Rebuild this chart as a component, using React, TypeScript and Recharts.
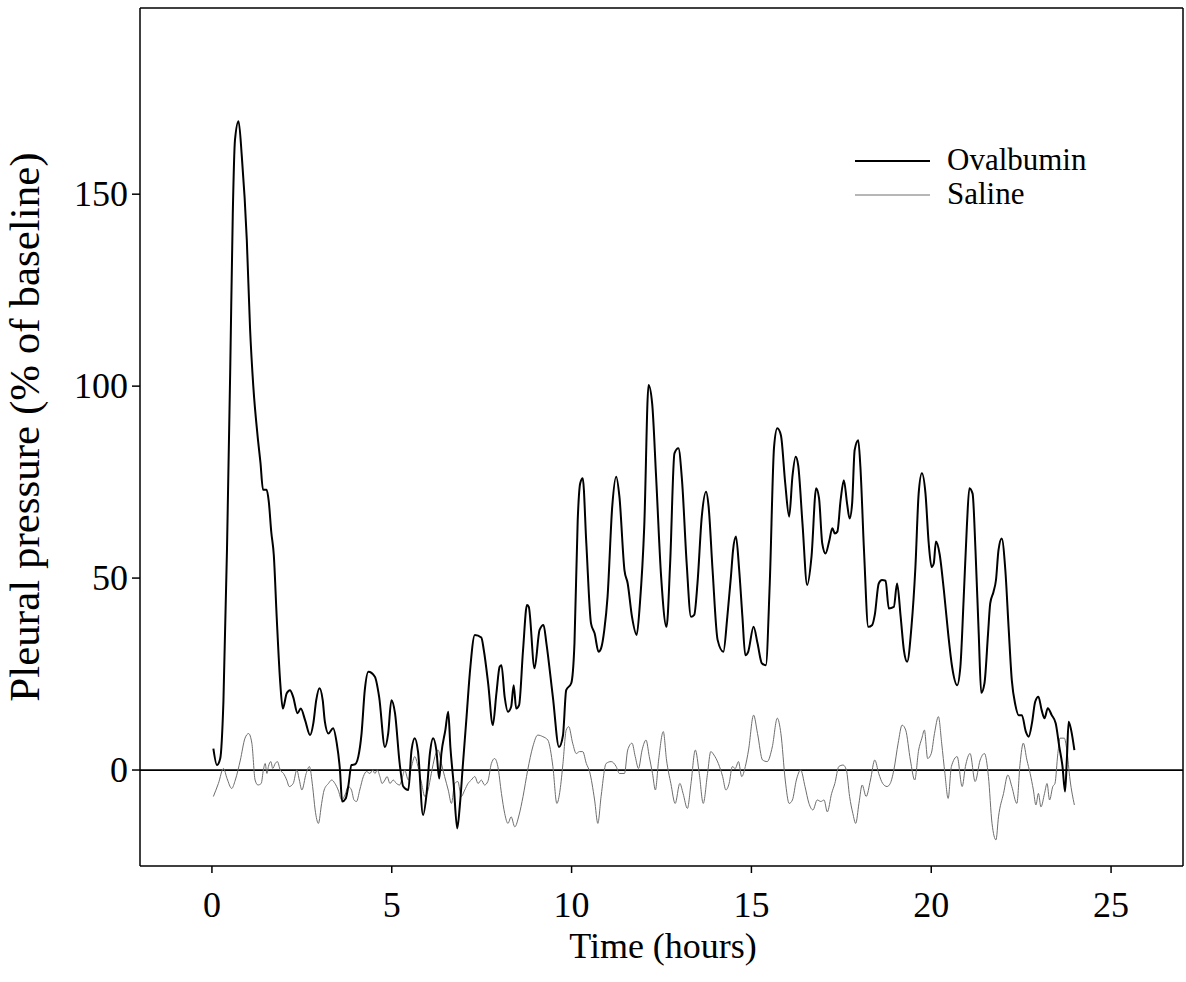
import { LineChart, Line, XAxis, YAxis, ReferenceLine } from "recharts";

// Ovalbumin trace (hours, % of baseline)
const ovalbuminHours = [
  0.04, 0.14, 0.23, 0.32, 0.42, 0.51, 0.58, 0.64, 0.74, 0.83, 0.97, 1.06, 1.15, 1.27, 1.35, 1.42, 1.52, 1.58,
  1.65, 1.72, 1.8, 1.9, 1.97, 2.08, 2.17, 2.26, 2.38, 2.47, 2.59, 2.73, 2.82, 2.9, 2.99, 3.08, 3.14, 3.24, 3.37,
  3.47, 3.56, 3.62, 3.72, 3.79, 3.88, 3.98, 4.07, 4.16, 4.25, 4.35, 4.53, 4.65, 4.81, 4.9, 4.99, 5.09, 5.22,
  5.32, 5.46, 5.55, 5.64, 5.73, 5.87, 5.97, 6.06, 6.15, 6.24, 6.32, 6.38, 6.49, 6.57, 6.63, 6.72, 6.82, 6.89,
  6.98, 7.08, 7.17, 7.31, 7.49, 7.56, 7.68, 7.81, 7.91, 8.0, 8.05, 8.14, 8.23, 8.32, 8.39, 8.46, 8.54, 8.65,
  8.76, 8.81, 8.97, 9.11, 9.22, 9.3, 9.48, 9.65, 9.76, 9.85, 9.99, 10.08, 10.17, 10.24, 10.31, 10.41, 10.54,
  10.64, 10.75, 10.82, 10.91, 11.0, 11.13, 11.24, 11.33, 11.47, 11.56, 11.68, 11.81, 11.9, 12.02, 12.14, 12.24,
  12.35, 12.49, 12.64, 12.74, 12.86, 12.97, 13.07, 13.2, 13.32, 13.41, 13.5, 13.62, 13.74, 13.81, 13.92, 14.06,
  14.22, 14.33, 14.43, 14.49, 14.57, 14.66, 14.75, 14.83, 14.91, 15.06, 15.17, 15.29, 15.4, 15.51, 15.63, 15.72,
  15.82, 15.94, 16.05, 16.14, 16.23, 16.3, 16.42, 16.55, 16.67, 16.8, 16.88, 16.97, 17.06, 17.16, 17.25, 17.32,
  17.39, 17.48, 17.57, 17.66, 17.73, 17.8, 17.87, 17.97, 18.03, 18.13, 18.25, 18.36, 18.43, 18.54, 18.63, 18.73,
  18.82, 18.96, 19.05, 19.15, 19.24, 19.33, 19.45, 19.56, 19.65, 19.74, 19.84, 19.93, 20.01, 20.07, 20.13, 20.23,
  20.35, 20.47, 20.58, 20.72, 20.81, 20.9, 20.99, 21.06, 21.15, 21.23, 21.32, 21.39, 21.48, 21.58, 21.64, 21.73,
  21.8, 21.87, 21.96, 22.06, 22.15, 22.24, 22.34, 22.43, 22.52, 22.63, 22.71, 22.8, 22.89, 22.98, 23.07, 23.15,
  23.24, 23.35, 23.46, 23.56, 23.65, 23.72, 23.77, 23.82, 23.89, 23.98,
];
const ovalbuminPct = [
  5.6, 1.3, 3, 18, 58, 105, 145, 164, 169, 160, 138, 115, 100, 87, 80, 73, 73, 70,
  62, 56, 40, 22.6, 16, 20, 20.8, 19, 14.8, 16, 13, 9.1, 12.2, 18.2, 21.3, 18.2, 12.6, 9.5, 10.9,
  7, 0, -8.2, -7.4, -4.3, 1.3, 1.5, 3.5, 9.5, 20.8, 25.6, 24.3, 19, 6, 9.5, 18.2, 14.8, 1.7,
  -4.3, -5.2, 5.2, 8.3, 4.8, -11.7, -6, 4.3, 8.3, 5.2, -2.2, 4.3, 10.4, 15.2, 6, -3.5, -15.2, -9.6,
  1.7, 13.9, 25.2, 35.2, 34.5, 31.2, 22.6, 11.7, 20, 26.9, 27.3, 19, 15.2, 16.5, 22.1, 16, 16.9, 31.2,
  43, 42.5, 26.5, 36.5, 37.8, 33, 19, 6, 9, 20.8, 22.6, 33, 65, 74.7, 76, 59, 38.2,
  35.6, 30.8, 31.7, 36.5, 45.1, 68.6, 76.4, 71.2, 52.1, 48.6, 39.9, 35.2, 43.4, 63.4, 100.3, 95.5,
  76.4, 50.3, 37.3, 53.8, 82.5, 83.8, 75.5, 53.8, 39.9, 40.4, 48.6, 66, 72.5, 68.6, 52.1, 33.9,
  30.8, 39.9, 50.3, 57.3, 60.8, 52.1, 39.9, 29.9, 30.8, 37.3, 33, 27.8, 27.3, 48.6, 84.2, 89,
  87.2, 74.7, 66, 76.4, 81.6, 79.4, 64.2, 48.2, 55.5, 73.4, 70.8, 59, 56.4, 59.5, 63, 61.6,
  62.1, 70.3, 75.5, 69.4, 65.5, 69.4, 83.3, 85.9, 79, 57.3, 37.3, 37.8, 40.4, 48.6, 49.5, 49.3,
  42.1, 42.5, 48.6, 39.9, 31.2, 28.2, 37.3, 52.9, 72, 77.3, 72, 59, 52.9, 53.8, 59.5, 56.4,
  46.9, 35.6, 26.9, 22.1, 26.9, 44.3, 63.4, 73.4, 72, 57.3, 35.6, 20.1, 22.6, 35.6, 43.4, 46.4,
  49.5, 57.3, 60.3, 52.1, 37.3, 23.4, 16.9, 14.3, 14.3, 10, 8.7, 12.2, 17.8, 19.1, 15.6, 13.5,
  16.1, 14.3, 12.2, 6.1, 0.9, -5.6, 2.6, 12.6, 10.4, 5.2,
];

// Saline trace (hours, % of baseline)
const salineHours = [
  0.04, 0.18, 0.32, 0.42, 0.55, 0.65, 0.79, 0.92, 1.02, 1.11, 1.2, 1.28, 1.37, 1.43, 1.48, 1.53, 1.57, 1.64,
  1.69, 1.76, 1.82, 1.9, 1.99, 2.08, 2.15, 2.26, 2.36, 2.43, 2.5, 2.62, 2.71, 2.8, 2.87, 2.96, 3.05, 3.12,
  3.24, 3.33, 3.42, 3.51, 3.61, 3.7, 3.79, 3.88, 3.95, 4.02, 4.11, 4.21, 4.3, 4.39, 4.47, 4.53, 4.6, 4.67,
  4.73, 4.81, 4.87, 4.95, 5.04, 5.13, 5.22, 5.3, 5.36, 5.46, 5.55, 5.64, 5.73, 5.83, 5.92, 6.01, 6.1, 6.2,
  6.29, 6.38, 6.47, 6.57, 6.66, 6.75, 6.84, 6.93, 7.03, 7.12, 7.21, 7.31, 7.4, 7.49, 7.58, 7.67, 7.77, 7.86,
  7.95, 8.05, 8.14, 8.23, 8.32, 8.42, 8.54, 8.65, 8.78, 8.92, 9.06, 9.2, 9.34, 9.48, 9.59, 9.68, 9.76, 9.85,
  9.92, 10.03, 10.13, 10.22, 10.31, 10.41, 10.5, 10.64, 10.73, 10.82, 10.96, 11.1, 11.24, 11.33, 11.47, 11.56,
  11.68, 11.77, 11.86, 11.96, 12.07, 12.16, 12.25, 12.33, 12.42, 12.55, 12.64, 12.76, 12.88, 13.01, 13.1,
  13.22, 13.32, 13.44, 13.55, 13.66, 13.78, 13.87, 13.96, 14.08, 14.2, 14.29, 14.38, 14.47, 14.55, 14.64,
  14.73, 14.83, 14.92, 15.06, 15.17, 15.31, 15.44, 15.58, 15.72, 15.82, 15.94, 16.05, 16.14, 16.25, 16.37,
  16.49, 16.6, 16.71, 16.83, 16.93, 17.02, 17.11, 17.23, 17.32, 17.43, 17.55, 17.64, 17.73, 17.82, 17.9,
  17.99, 18.08, 18.19, 18.31, 18.43, 18.54, 18.65, 18.77, 18.86, 18.96, 19.08, 19.19, 19.29, 19.42, 19.54,
  19.65, 19.74, 19.81, 19.9, 20.0, 20.09, 20.2, 20.29, 20.38, 20.47, 20.56, 20.72, 20.86, 20.95, 21.08,
  21.22, 21.36, 21.48, 21.59, 21.69, 21.8, 21.87, 22.01, 22.13, 22.24, 22.38, 22.47, 22.56, 22.66, 22.75,
  22.84, 22.91, 22.98, 23.05, 23.15, 23.22, 23.29, 23.38, 23.44, 23.52, 23.58, 23.7, 23.77, 23.86, 23.98,
];
const salinePct = [
  -6.9, -3.5, 0.4, -2.2, -4.8, -2.6, 2.6, 8.3, 9.5, 7, -2.6, -3.9, -3.5, 0, 1.7, -0.9, 0.9, 2.2,
  0.4, 1.7, 2.2, 0, -0.9, -2.6, -4.3, -3.5, 0, -2.6, -5.2, -0.9, 0.9, -4.3, -10.4, -13.9, -8.7, -5.2,
  -3.5, -2.6, -3.5, -5.2, -7.8, -6.5, -4.3, -5.2, -7.8, -8.2, -5.2, -1.7, -0.4, -0.9, 0, -0.9, 0, -1.7,
  -3.5, -2.6, -1.7, -3.5, -2.6, -3.5, -3.9, -1.7, 0, -2.6, 0.9, 3.5, 0.9, -3.5, -6.9, -5.2, -0.9, 3.5,
  5.2, 1.7, -1.7, -5.2, -8.7, -3.5, -3, -6.9, -5.2, -3.5, -2.6, -1.7, -3.5, -2.6, -3.9, -3, 1.7, 3,
  0.9, -6.1, -11.3, -13.9, -12.2, -14.8, -11.7, -6.9, 0, 6, 9.1, 8.7, 7.8, 0.9, -8.7, -5.2, 1.7, 10.4,
  11.3, 7, 4.3, 4.8, 4.8, 1.7, -0.4, -7.8, -13.9, -6.9, 1.7, 2.2, 0.9, -0.9, -0.9, 5.2,
  7, 3.5, 0.4, 5.2, 7.8, 3.5, -0.9, -5.2, 2.6, 10, 2.6, -3.5, -8.7, -3.5, -6.1,
  -10, -3.5, 5.2, -0.9, -8.7, -0.9, 4.8, 3.9, 1.7, -1.7, -5.2, -3.5, 0.9, 0.4, 2.2,
  -1.7, 0.9, 5.2, 14.3, 9.5, 2.6, 2.2, 6, 13.5, 9.5, -2.6, -8.7, -7.8, -2.6, 0,
  -4.3, -8.7, -10.4, -7.8, -8.2, -7.8, -10.9, -6.1, -3.5, 0.9, 1.3, 0, -6.9, -11.3, -13.9,
  -8.7, -3.9, -6.9, -2.6, 2.6, -0.9, -3.5, -4.3, -3.5, 0, 7, 11.7, 10.4, 2.6, -2.6,
  5.2, 8.3, 10.4, 3, 4.3, 9.5, 13.9, 7, -0.9, -7.4, 0.9, 3.5, -4.3, 0.9, 4.3,
  -3, 2.6, 4.3, -1.7, -13.9, -18.2, -12.2, -6.1, -1.3, -4.3, -8.7, 1.7, 7, 2.6, -0.9,
  -5.2, -9.1, -6.1, -9.6, -6.1, -3.5, -7.8, -4.3, -3.5, 4.3, 8.3, 8.3, 5.2, -2.6, -9.1,
];

const xTicks = [0, 5, 10, 15, 20, 25];
const yTicks = [0, 50, 100, 150];
const seriesNames = ["Ovalbumin", "Saline"];

const ovalbuminData = ovalbuminHours.map((t, i) => ({ t, v: ovalbuminPct[i] }));
const salineData = salineHours.map((t, i) => ({ t, v: salinePct[i] }));

const FONT = "'Liberation Serif', 'Times New Roman', serif";
const SALINE_GREY = "#6e6e6e";

function XTick({ x, payload }: any) {
  return (
    <text x={x} y={917} textAnchor="middle" fontFamily={FONT} fontSize={36} fill="#000">
      {payload.value}
    </text>
  );
}

function YTick({ y, payload }: any) {
  return (
    <text x={128} y={y + 12} textAnchor="end" fontFamily={FONT} fontSize={36} fill="#000">
      {payload.value}
    </text>
  );
}

// legend drawn straight into the svg so it takes no room from the plot
function KeyRows() {
  const rows = [
    { name: seriesNames[0], stroke: "#000", width: 2, cy: 160 },
    { name: seriesNames[1], stroke: SALINE_GREY, width: 1, cy: 194 },
  ];
  return (
    <g>
      {rows.map((r) => (
        <g key={r.name}>
          <line x1={855} x2={930} y1={r.cy + 1} y2={r.cy + 1} stroke={r.stroke} strokeWidth={r.width} />
          <text x={947} y={r.cy + 10} fontFamily={FONT} fontSize={31} fill="#000">
            {r.name}
          </text>
        </g>
      ))}
    </g>
  );
}

export default function App() {
  return (
    <div style={{ position: "absolute", left: 0, top: 0, width: 1186, height: 982, background: "#fff" }}>
      <LineChart width={1186} height={982} margin={{ top: 8, right: 3, left: 0, bottom: 0 }}>
        <XAxis
          type="number"
          dataKey="t"
          domain={[-2, 27]}
          ticks={xTicks}
          height={116}
          tick={<XTick />}
          tickSize={7}
          tickLine={{ stroke: "#000", strokeWidth: 1.5 }}
          axisLine={{ stroke: "#000", strokeWidth: 1.5 }}
          allowDataOverflow
        />
        <YAxis
          type="number"
          domain={[-25, 198.5]}
          ticks={yTicks}
          width={140}
          tick={<YTick />}
          tickSize={8}
          tickLine={{ stroke: "#000", strokeWidth: 1.5 }}
          axisLine={{ stroke: "#000", strokeWidth: 1.5 }}
          allowDataOverflow
        />
        <ReferenceLine y={198.5} stroke="#000" strokeWidth={1.5} />
        <ReferenceLine x={27} stroke="#000" strokeWidth={1.5} />
        <ReferenceLine y={0} stroke="#000" strokeWidth={1.8} />
        <Line
          data={salineData}
          dataKey="v"
          name={seriesNames[1]}
          type="monotone"
          stroke={SALINE_GREY}
          strokeWidth={1}
          dot={false}
          isAnimationActive={false}
        />
        <Line
          data={ovalbuminData}
          dataKey="v"
          name={seriesNames[0]}
          type="monotone"
          stroke="#000"
          strokeWidth={2}
          dot={false}
          isAnimationActive={false}
        />
        <KeyRows />
        <text
          x={39}
          y={427}
          transform="rotate(-90 39 427)"
          textAnchor="middle"
          fontFamily={FONT}
          fontSize={43}
          fill="#000"
        >
          Pleural pressure (% of baseline)
        </text>
        <text x={663} y={958} textAnchor="middle" fontFamily={FONT} fontSize={36} fill="#000">
          Time (hours)
        </text>
      </LineChart>
    </div>
  );
}
